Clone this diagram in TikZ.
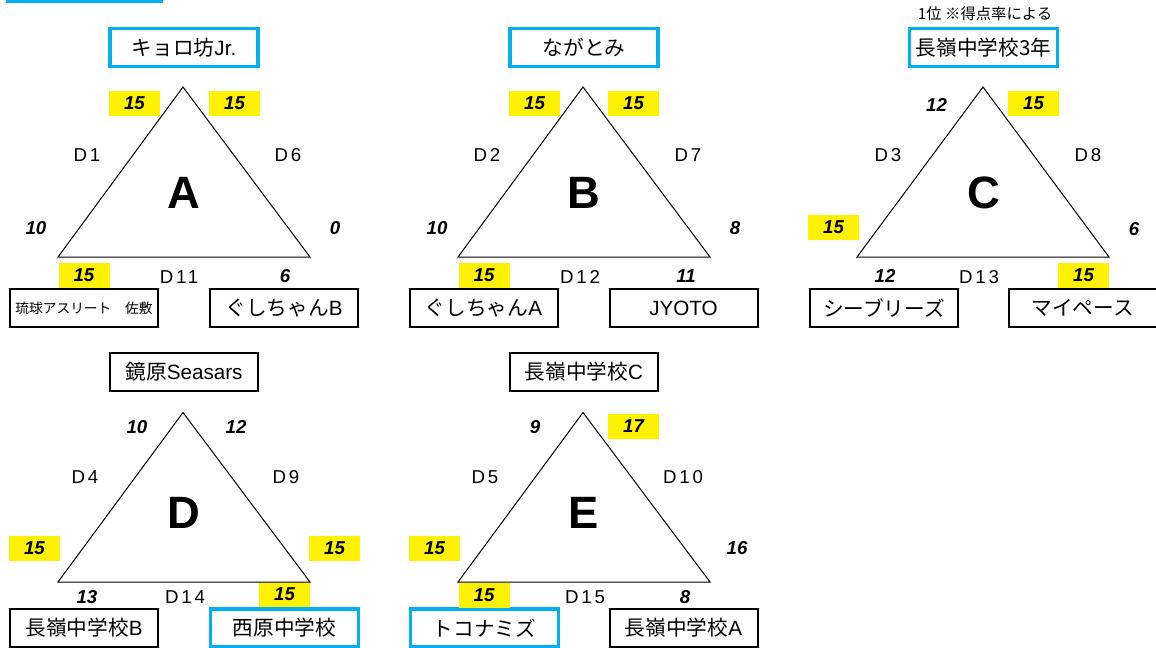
\documentclass[tikz,border=0pt]{standalone}
\usepackage{fontspec}
\setmainfont{Liberation Sans}
\newfontfamily\jp{Noto Sans CJK JP}
\newfontfamily\gamefont[LetterSpace=15]{Liberation Sans}
\definecolor{winblue}{RGB}{0,176,240}

\begin{document}
\begin{tikzpicture}[x=0.75pt, y=-0.75pt,
    team/.style={draw, line width=1.5pt, minimum width=111pt, minimum height=28.5pt,
        inner sep=0pt, font=\fontsize{15.5}{16}\selectfont},
    win/.style={team, draw=winblue, line width=2.6pt},
    pts/.style={inner sep=0pt, minimum width=38.25pt, minimum height=18.75pt,
        font=\fontsize{14}{14}\selectfont\bfseries\itshape},
    hi/.style={pts, fill=yellow},
    game/.style={font=\gamefont\fontsize{14}{14}\selectfont},
    grp/.style={font=\fontsize{34}{34}\selectfont\bfseries},
    tri/.style={line width=0.75pt}]
    \useasboundingbox (0,0) rectangle (1156,647);
    \draw[winblue, line width=2.6pt] (7.5,-30) rectangle (161,1.2);

    % group A
    \coordinate (a1) at (183,87);
    \coordinate (a2) at (58,257);
    \coordinate (a3) at (310,257);
    \node[win] (ta) at (184,47.5) {{\jp キョロ坊}Jr.};
    \node[team] (la) at (84,308) {\fontsize{10.3}{11}\selectfont\jp 琉球アスリート\hspace{1em}佐敷};
    \node[team] (ra) at (284,308) {{\jp ぐしちゃん}B};
    \node[hi] (sa1) at (134.5,103.5) {15};
    \node[hi] (sa2) at (234.5,103.5) {15};
    \node[pts] (sa3) at (36,228) {10};
    \node[pts] (sa4) at (335,228) {0};
    \node[hi] (sa5) at (84,275.5) {15};
    \node[pts] (sa6) at (285,276) {6};
    \node[game] (da1) at (87,155) {D1};
    \node[game] (da2) at (288,155) {D6};
    \node[game] (da3) at (179,277) {D11};
    \node[grp] (ga) at (184,193) {A};

    % group B
    \coordinate (b1) at (583,87);
    \coordinate (b2) at (458,257);
    \coordinate (b3) at (710,257);
    \node[win] (tb) at (584,47.5) {\jp ながとみ};
    \node[team] (lb) at (483.5,308) {{\jp ぐしちゃん}A};
    \node[team] (rb) at (683.5,308) {JYOTO};
    \node[hi] (sb1) at (534.5,103.5) {15};
    \node[hi] (sb2) at (633.5,103.5) {15};
    \node[pts] (sb3) at (437,228) {10};
    \node[pts] (sb4) at (735,228) {8};
    \node[hi] (sb5) at (484,275.5) {15};
    \node[pts] (sb6) at (686,276) {11};
    \node[game] (db1) at (487,155) {D2};
    \node[game] (db2) at (688,155) {D7};
    \node[game] (db3) at (580,277) {D12};
    \node[grp] (gb) at (584,193) {B};

    % group C
    \coordinate (c1) at (983,87);
    \coordinate (c2) at (857,257);
    \coordinate (c3) at (1109,257);
    \node (note) at (985,14) {\fontsize{11.5}{12}\selectfont\jp 1位 ※得点率による};
    \node[win] (tc) at (983.5,47.5) {\jp 長嶺中学校3年};
    \node[team] (lc) at (884,308) {\jp シーブリーズ};
    \node[team] (rc) at (1082.5,308) {\jp マイペース};
    \node[pts] (sc1) at (936.5,105) {12};
    \node[hi] (sc2) at (1033.5,103.5) {15};
    \node[hi] (sc3) at (833.5,227.5) {15};
    \node[pts] (sc4) at (1134,229) {6};
    \node[pts] (sc5) at (885,276) {12};
    \node[hi] (sc6) at (1083.5,275.5) {15};
    \node[game] (dc1) at (888,155) {D3};
    \node[game] (dc2) at (1088,155) {D8};
    \node[game] (dc3) at (979,277) {D13};
    \node[grp] (gc) at (984,193) {C};

    % group D
    \coordinate (d1) at (183,412.5);
    \coordinate (d2) at (58,582);
    \coordinate (d3) at (310,582);
    \node[team] (td) at (184,371.5) {{\jp 鏡原}Seasars};
    \node[team] (ld) at (84,628) {{\jp 長嶺中学校}B};
    \node[win] (rd) at (284.5,628) {\jp 西原中学校};
    \node[pts] (sd1) at (137,427) {10};
    \node[pts] (sd2) at (236,427) {12};
    \node[hi] (sd3) at (34.5,548.5) {15};
    \node[hi] (sd4) at (334.5,548.5) {15};
    \node[pts] (sd5) at (87,597) {13};
    \node[hi] (sd6) at (284.5,594.5) {15};
    \node[game] (dd1) at (85,477) {D4};
    \node[game] (dd2) at (286,477) {D9};
    \node[game] (dd3) at (185,597) {D14};
    \node[grp] (gd) at (184,513) {D};

    % group E
    \coordinate (e1) at (583,412.5);
    \coordinate (e2) at (458,582);
    \coordinate (e3) at (710,582);
    \node[team] (te) at (584,371.5) {{\jp 長嶺中学校}C};
    \node[win] (le) at (484.5,628) {\jp トコナミズ};
    \node[team] (re) at (683.5,628) {{\jp 長嶺中学校}A};
    \node[pts] (se1) at (535,427) {9};
    \node[hi] (se2) at (633.5,426.5) {17};
    \node[hi] (se3) at (434.5,548.5) {15};
    \node[pts] (se4) at (737,548) {16};
    \node[hi] (se5) at (484,595) {15};
    \node[pts] (se6) at (685,597) {8};
    \node[game] (de1) at (485,477) {D5};
    \node[game] (de2) at (683,477) {D10};
    \node[game] (de3) at (585,597) {D15};
    \node[grp] (ge) at (584,513) {E};

    \foreach \g in {a,b,c,d,e}
        \draw[tri] (\g1) -- (\g2) -- (\g3) -- cycle;
\end{tikzpicture}
\end{document}
